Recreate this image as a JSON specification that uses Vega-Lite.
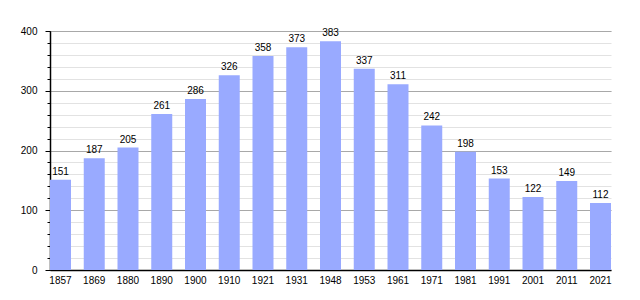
{
  "$schema": "https://vega.github.io/schema/vega-lite/v6.json",
  "width": 561,
  "height": 239,
  "autosize": "none",
  "padding": {"left": 50, "top": 31, "right": 29, "bottom": 30},
  "background": "white",
  "config": {
    "view": {"stroke": null},
    "font": "Liberation Sans",
    "axis": {"labelFont": "Liberation Sans", "labelFontSize": 10, "labelColor": "#000", "domainColor": "#000", "tickColor": "#000"}
  },
  "data": {"values": [
    {"year": "1857", "pop": 151},
    {"year": "1869", "pop": 187},
    {"year": "1880", "pop": 205},
    {"year": "1890", "pop": 261},
    {"year": "1900", "pop": 286},
    {"year": "1910", "pop": 326},
    {"year": "1921", "pop": 358},
    {"year": "1931", "pop": 373},
    {"year": "1948", "pop": 383},
    {"year": "1953", "pop": 337},
    {"year": "1961", "pop": 311},
    {"year": "1971", "pop": 242},
    {"year": "1981", "pop": 198},
    {"year": "1991", "pop": 153},
    {"year": "2001", "pop": 122},
    {"year": "2011", "pop": 149},
    {"year": "2021", "pop": 112}
  ]},
  "encoding": {
    "x": {"field": "year", "type": "ordinal", "scale": {"paddingInner": 0.378, "paddingOuter": 0}, "axis": {"title": null, "labelAngle": 0, "ticks": false, "labelPadding": 5, "domainWidth": 1.5}}
  },
  "layer": [
    {
      "mark": {"type": "bar", "color": "#99aaff", "opacity": 0},
      "encoding": {
        "y": {"field": "pop", "type": "quantitative", "scale": {"domain": [0, 400], "nice": false},
          "axis": {"title": null, "values": [0,20,40,60,80,100,120,140,160,180,200,220,240,260,280,300,320,340,360,380,400], "labels": false, "grid": true, "gridColor": "#e2e2e2", "tickSize": 3, "domain": false, "orient": "left"}}
      }
    },
    {
      "mark": {"type": "bar", "color": "#99aaff", "opacity": 0},
      "encoding": {
        "y": {"field": "pop", "type": "quantitative",
          "axis": {"title": null, "values": [0,100,200,300,400], "grid": true, "gridColor": "#a8a8a8", "tickSize": 5, "labelPadding": 8, "domainWidth": 1.5, "orient": "left"}}
      }
    },
    {
      "mark": {"type": "bar", "color": "#99aaff"},
      "encoding": {"y": {"field": "pop", "type": "quantitative", "axis": null}}
    },
    {
      "mark": {"type": "text", "baseline": "bottom", "dy": -3, "fontSize": 10, "color": "#000"},
      "encoding": {
        "y": {"field": "pop", "type": "quantitative", "axis": null},
        "text": {"field": "pop", "type": "quantitative"}
      }
    }
  ],
  "resolve": {"axis": {"y": "independent"}}
}
